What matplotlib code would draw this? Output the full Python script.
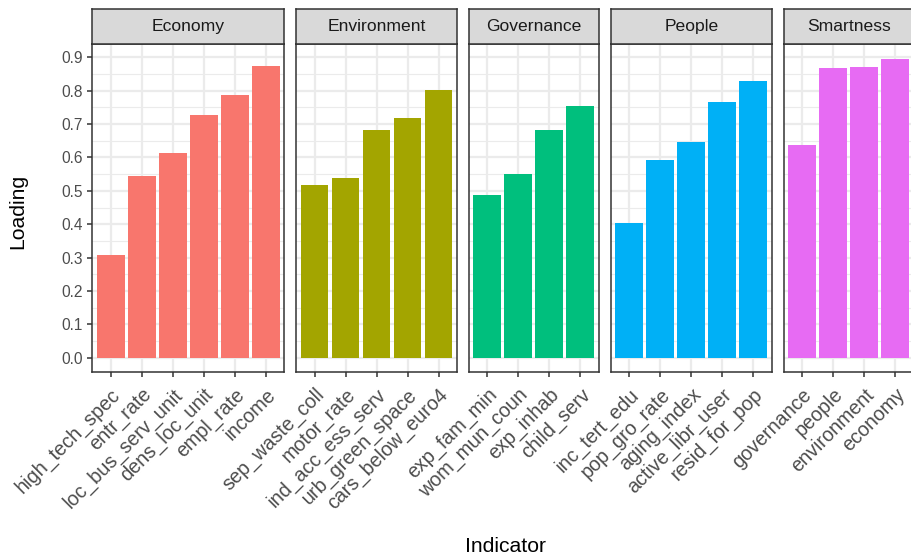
import numpy as np
import matplotlib
matplotlib.use("Agg")
import matplotlib.pyplot as plt

plt.rcParams['font.family'] = ['Liberation Sans', 'DejaVu Sans']

# data
groups = ["Economy", "Environment", "Governance", "People", "Smartness"]
economy_lab = ["high_tech_spec", "entr_rate", "loc_bus_serv_unit", "dens_loc_unit", "empl_rate", "income"]
economy_val = [0.307, 0.545, 0.614, 0.727, 0.787, 0.874]
environment_lab = ["sep_waste_coll", "motor_rate", "ind_acc_ess_serv", "urb_green_space", "cars_below_euro4"]
environment_val = [0.516, 0.537, 0.683, 0.719, 0.802]
governance_lab = ["exp_fam_min", "wom_mun_coun", "exp_inhab", "child_serv"]
governance_val = [0.486, 0.549, 0.683, 0.755]
people_lab = ["inc_tert_edu", "pop_gro_rate", "aging_index", "active_libr_user", "resid_for_pop"]
people_val = [0.405, 0.593, 0.647, 0.766, 0.829]
smart_lab = ["governance", "people", "environment", "economy"]
smart_val = [0.638, 0.868, 0.871, 0.895]
colors = ["#F8766D", "#A3A500", "#00BF7D", "#00B0F6", "#E76BF3"]

labels = [economy_lab, environment_lab, governance_lab, people_lab, smart_lab]
values = [economy_val, environment_val, governance_val, people_val, smart_val]

W, H = 912, 556
fig = plt.figure(figsize=(W / 100, H / 100), dpi=100)

unit = 31.0
gap = 11.7
x0 = 92.0
top_px, bot_px = 43.7, 371.5
strip_px = 34.4
ylo, yhi = -0.041, 0.9405

x = x0
for i, g in enumerate(groups):
    n = len(labels[i])
    w = (n + 0.2) * unit
    ax = fig.add_axes([x / W, 1 - bot_px / H, w / W, (bot_px - top_px) / H])
    pos = np.arange(n)
    ax.bar(pos, values[i], width=0.9, color=colors[i], zorder=3)
    ax.set_xlim(-0.6, n - 0.4)
    ax.set_ylim(ylo, yhi)
    ax.set_yticks(np.arange(0, 1.0, 0.1))
    ax.set_yticks(np.arange(0.05, 0.95, 0.1), minor=True)
    ax.set_xticks(pos)
    ax.set_xticklabels(labels[i], rotation=45, ha='right', va='top',
                       rotation_mode='anchor', fontsize=14.2, color='#4D4D4D')
    ax.grid(True, which='major', color='#EBEBEB', lw=1.6, zorder=0)
    ax.grid(True, which='minor', axis='y', color='#EBEBEB', lw=0.8, zorder=0)
    ax.set_axisbelow(True)
    for s in ax.spines.values():
        s.set_color('#333333')
        s.set_linewidth(1.1)
    ax.tick_params(axis='x', which='major', length=3.7, width=1.1, color='#333333', pad=6)
    ax.tick_params(axis='y', which='minor', length=0)
    if i == 0:
        ax.set_yticklabels(["%.1f" % v for v in np.arange(0, 1.0, 0.1)],
                           fontsize=11.2, color='#4D4D4D')
        ax.tick_params(axis='y', which='major', length=3.7, width=1.1, color='#333333', pad=3)
    else:
        ax.tick_params(axis='y', which='major', length=0, labelleft=False)
    # strip on top
    sax = fig.add_axes([x / W, 1 - top_px / H, w / W, strip_px / H])
    sax.set_facecolor('#D9D9D9')
    sax.set_xticks([])
    sax.set_yticks([])
    for s in sax.spines.values():
        s.set_color('#333333')
        s.set_linewidth(1.1)
    sax.text(0.5, 0.5, g, ha='center', va='center', fontsize=12.6, color='#1A1A1A',
             transform=sax.transAxes)
    x += w + gap

fig.text(18 / W, 1 - 211 / H, "Loading", rotation=90, ha='center', va='center', fontsize=15.2)
fig.text(506 / W, 1 - 552 / H, "Indicator", ha='center', va='baseline', fontsize=15.2)

fig.savefig("out.png", dpi=100)
